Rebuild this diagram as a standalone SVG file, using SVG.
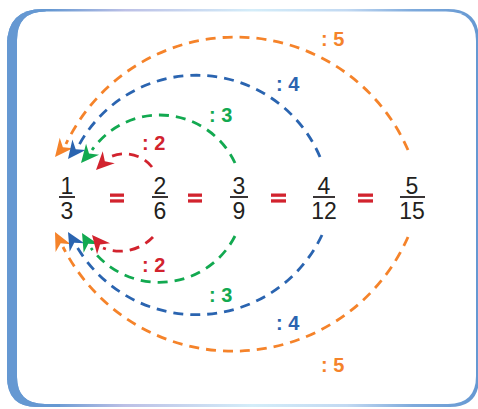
<svg xmlns="http://www.w3.org/2000/svg" width="478" height="409" viewBox="0 0 478 409">
<defs>
<linearGradient id="fr" x1="0" y1="0" x2="1" y2="0">
<stop offset="0" stop-color="#6598d2"/>
<stop offset="0.09" stop-color="#6598d2"/>
<stop offset="0.25" stop-color="#bcc0e6"/>
<stop offset="0.52" stop-color="#d4edf9"/>
<stop offset="0.72" stop-color="#c2d9f2"/>
<stop offset="0.86" stop-color="#7eaadc"/>
<stop offset="1" stop-color="#6598d2"/>
</linearGradient>
<path id="ah" d="M0,0 L-18,-8.5 L-12.5,0 L-18,8.5 Z"/>
<style>
.arc{fill:none;stroke-width:2.8;stroke-dasharray:10 7}
.o{stroke:#f5832a}.b{stroke:#2a64b0}.g{stroke:#12a950}.r{stroke:#d2232e}
.fo{fill:#f5832a}.fb{fill:#2a64b0}.fg{fill:#12a950}.fr{fill:#d2232e}
.lbl{font-family:"Liberation Sans",Arial,sans-serif;font-size:20px;font-weight:bold}
.num{font-family:"Liberation Sans",Arial,sans-serif;font-size:23px;fill:#231f20;text-anchor:middle}
.bar{stroke:#231f20;stroke-width:1.8}
</style>
</defs>
<g id="frame">
<path d="M43,9 H448 Q479,9 479,40 V378 Q479,407 450,407 H37 Q7,407 7,377 V45 Q7,9 43,9 Z" fill="url(#fr)"/>
<path d="M45,11.5 H446 Q476,11.5 476,41 V376 Q476,404 448,404 H45 Q17,404 17,377 V40 Q17,11.5 45,11.5 Z" fill="#ffffff"/>
<path d="M7,45 Q7,9 43,9 L46,11.5 Q17,11.5 17,40 Z" fill="#6598d2"/>
<rect x="7" y="40" width="10" height="340" fill="#6598d2"/>
<path d="M7,375 Q7,407 37,407 L60,407 L60,404 L45,404 Q17,404 17,377 Z" fill="#6598d2"/>
</g>
<g id="connectors">
<path class="arc o" d="M408,150 A188,188 0 0 0 66,144"/>
<path class="arc b" d="M320,157 A134,134 0 0 0 79,145"/>
<path class="arc g" d="M235,163 A83,83 0 0 0 92,150"/>
<path class="arc r" d="M152,167 A35,35 0 0 0 108,158"/>
<path class="arc o" d="M408,237 A191,191 0 0 1 63,247"/>
<path class="arc b" d="M322,235 A139,139 0 0 1 77,247"/>
<path class="arc g" d="M235,236 A85,85 0 0 1 91,248"/>
<path class="arc r" d="M153,237 A46,46 0 0 1 103,248"/>
<use href="#ah" class="fo" transform="translate(55,157) rotate(129)"/>
<use href="#ah" class="fb" transform="translate(68,159) rotate(128)"/>
<use href="#ah" class="fg" transform="translate(81,163) rotate(130)"/>
<use href="#ah" class="fr" transform="translate(96,170) rotate(135)"/>
<use href="#ah" class="fo" transform="translate(55,232) rotate(-117)"/>
<use href="#ah" class="fb" transform="translate(68,232) rotate(-120)"/>
<use href="#ah" class="fg" transform="translate(82,233) rotate(-120)"/>
<use href="#ah" class="fr" transform="translate(92,235) rotate(-130)"/>
</g>
<g id="labels">
<text class="lbl fo" x="321" y="46">: 5</text>
<text class="lbl fb" x="276" y="91">: 4</text>
<text class="lbl fg" x="209" y="122">: 3</text>
<text class="lbl fr" x="142" y="150">: 2</text>
<text class="lbl fr" x="142" y="272">: 2</text>
<text class="lbl fg" x="209" y="302">: 3</text>
<text class="lbl fb" x="276" y="330">: 4</text>
<text class="lbl fo" x="321" y="372">: 5</text>
</g>
<g id="f1"><text class="num" x="67" y="194">1</text><line class="bar" x1="59" y1="197" x2="75" y2="197"/><text class="num" x="67" y="219">3</text></g>
<g id="eq1" class="fr"><rect x="110" y="193.5" width="14" height="3.3"/><rect x="110" y="199.3" width="14" height="3.3"/></g>
<g id="f2"><text class="num" x="160" y="194">2</text><line class="bar" x1="152" y1="197" x2="168" y2="197"/><text class="num" x="160" y="219">6</text></g>
<g id="eq2" class="fr"><rect x="188" y="193.5" width="14" height="3.3"/><rect x="188" y="199.3" width="14" height="3.3"/></g>
<g id="f3"><text class="num" x="239" y="194">3</text><line class="bar" x1="230" y1="197" x2="248" y2="197"/><text class="num" x="239" y="219">9</text></g>
<g id="eq3" class="fr"><rect x="271" y="193.5" width="15" height="3.3"/><rect x="271" y="199.3" width="15" height="3.3"/></g>
<g id="f4"><text class="num" x="324" y="194">4</text><line class="bar" x1="313" y1="197" x2="335" y2="197"/><text class="num" x="324" y="219">12</text></g>
<g id="eq4" class="fr"><rect x="358" y="193.5" width="15" height="3.3"/><rect x="358" y="199.3" width="15" height="3.3"/></g>
<g id="f5"><text class="num" x="412" y="194">5</text><line class="bar" x1="400" y1="197" x2="425" y2="197"/><text class="num" x="412" y="219">15</text></g>
</svg>
